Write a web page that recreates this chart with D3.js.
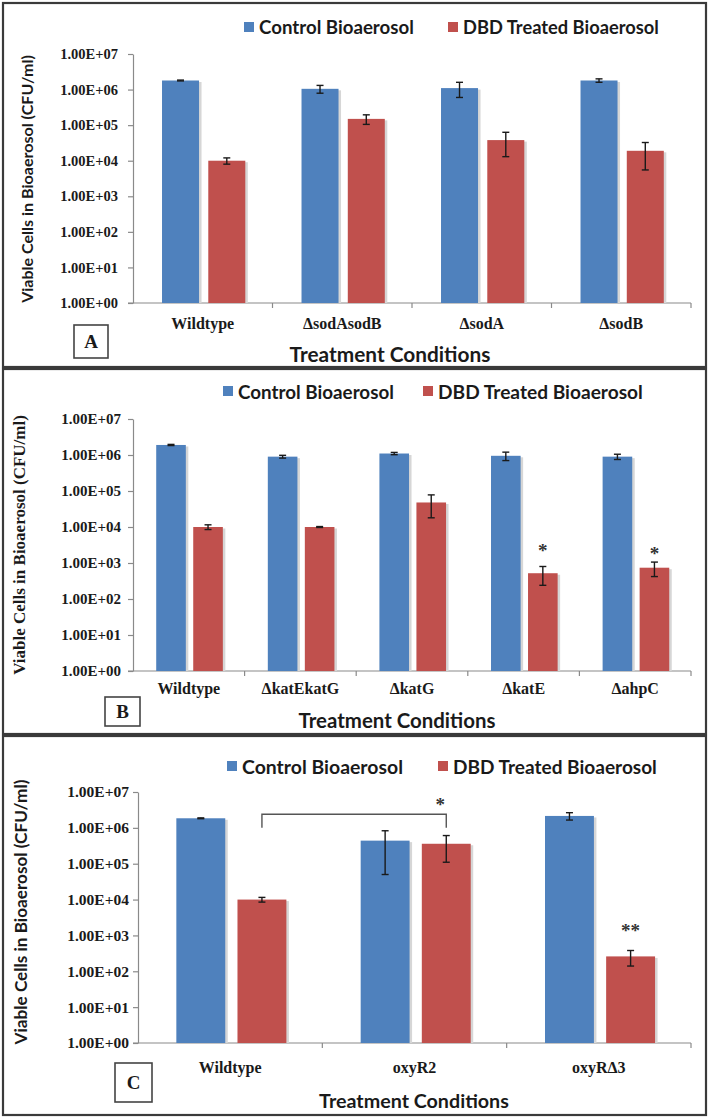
<!DOCTYPE html>
<html><head><meta charset="utf-8">
<script src="https://cdn.jsdelivr.net/npm/d3@7"></script>
<style>body{margin:0;background:#fff} svg{display:block}</style>
</head><body>
<svg id="chart" width="710" height="1118"></svg>
<script>
// ---------- DATA ----------
const seriesNames = ["Control Bioaerosol", "DBD Treated Bioaerosol"];
const seriesColors = ["#4F81BD", "#C0504D"];
const yTickValues = [1, 10, 100, 1e3, 1e4, 1e5, 1e6, 1e7];
const yTickLabels = ["1.00E+00","1.00E+01","1.00E+02","1.00E+03","1.00E+04","1.00E+05","1.00E+06","1.00E+07"];
const xAxisTitle = "Treatment Conditions";
const yAxisTitle = "Viable Cells in Bioaerosol (CFU/ml)";

// Panel A
const categoriesA = ["Wildtype", "ΔsodAsodB", "ΔsodA", "ΔsodB"];
const controlA    = [1.8e6, 1.05e6, 1.1e6, 1.8e6];
const controlErrA = [0.05e6, 0.26e6, 0.5e6, 0.2e6];
const treatedA    = [1.0e4, 1.5e5, 3.8e4, 1.9e4];
const treatedErrA = [0.2e4, 0.45e5, 2.5e4, 1.35e4];

// Panel B
const categoriesB = ["Wildtype", "ΔkatEkatG", "ΔkatG", "ΔkatE", "ΔahpC"];
const controlB    = [1.9e6, 0.9e6, 1.1e6, 0.95e6, 0.9e6];
const controlErrB = [0.07e6, 0.08e6, 0.08e6, 0.25e6, 0.15e6];
const treatedB    = [1.0e4, 1.0e4, 4.8e4, 5.2e2, 7.4e2];
const treatedErrB = [0.15e4, 0.03e4, 3.0e4, 2.8e2, 3.2e2];
const starsB      = [{category: "ΔkatE", level: 2.6e3, text: "*"}, {category: "ΔahpC", level: 2.2e3, text: "*"}];

// Panel C
const categoriesC = ["Wildtype", "oxyR2", "oxyRΔ3"];
const controlC    = [1.85e6, 4.4e5, 2.15e6];
const controlErrC = [0.05e6, 3.9e5, 0.5e6];
const treatedC    = [1.0e4, 3.6e5, 2.6e2];
const treatedErrC = [0.15e4, 2.5e5, 1.2e2];
const starsC      = [{category: "oxyRΔ3", level: 1.6e3, text: "**"}];
const bracketC    = {from: "Wildtype", to: "oxyR2", level: 2.4e6, foot: 1.0e6, starLevel: 5.2e6, text: "*"};

// ---------- DRAWING ----------
const SERIF = "'Liberation Serif','Times New Roman',serif";
const SANS = "Lato,'Open Sans','Liberation Sans',sans-serif";
const svg = d3.select("#chart");
svg.append("rect").attr("width", 710).attr("height", 1118).attr("fill", "#fff");

function fitText(sel, w) {
  const fs = parseFloat(sel.attr("font-size"));
  const L = sel.node().getComputedTextLength();
  if (L > 0) sel.attr("font-size", fs * w / L);
}

function drawPanel(p) {
  const g = svg.append("g");
  g.append("rect").attr("x", p.box[0]).attr("y", p.box[1])
    .attr("width", p.box[2] - p.box[0]).attr("height", p.box[3] - p.box[1])
    .attr("fill", "none").attr("stroke", "#3a3a3a").attr("stroke-width", 2.2);

  const x = d3.scaleBand().domain(p.categories).range([p.plot.x0, p.plot.x1]);
  const bw = x.bandwidth();
  const inner = d3.scaleBand().domain([0, 1]).range([0.208 * bw, 0.805 * bw]).paddingInner(0.2);
  const y = d3.scaleLog().domain([1, 1e7]).range([p.plot.y1, p.plot.y0]);

  // y axis
  const ay = g.append("g").attr("transform", `translate(${p.plot.x0},0)`)
    .call(d3.axisLeft(y).tickValues(yTickValues).tickFormat((d, i) => yTickLabels[i])
      .tickSize(5).tickSizeOuter(0).tickPadding(p.tickPad));
  ay.select(".domain").attr("stroke", "#8a8a8a").attr("stroke-width", 1.2);
  ay.selectAll(".tick line").attr("stroke", "#8a8a8a").attr("stroke-width", 1.2);
  ay.selectAll(".tick text").attr("font-family", SERIF).attr("font-weight", "bold")
    .attr("font-size", p.tickFont).attr("fill", "#1a1a1a");

  // x axis line and boundary ticks
  const y0 = y(1);
  g.append("line").attr("x1", p.plot.x0 - 5).attr("x2", p.plot.x1).attr("y1", y0).attr("y2", y0)
    .attr("stroke", "#8a8a8a").attr("stroke-width", 1.2);
  const bounds = p.categories.map(c => x(c)).concat([p.plot.x1]).slice(1);
  g.selectAll(".xt").data(bounds).enter().append("line")
    .attr("x1", d => d).attr("x2", d => d).attr("y1", y0).attr("y2", y0 + 5)
    .attr("stroke", "#8a8a8a").attr("stroke-width", 1.2);

  // bars
  const series = [
    {vals: p.control, errs: p.controlErr},
    {vals: p.treated, errs: p.treatedErr}
  ];
  series.forEach((s, si) => {
    const data = p.categories.map((c, i) => ({c, v: s.vals[i], e: s.errs[i]}));
    const bx = d => x(d.c) + inner(si);
    g.selectAll(".sh" + si).data(data).enter().append("rect")
      .attr("x", d => bx(d) + 2.5).attr("y", d => y(d.v) + 1.5)
      .attr("width", inner.bandwidth()).attr("height", d => y0 - y(d.v) - 1.5)
      .attr("fill", "#d6d6d6");
    g.selectAll(".b" + si).data(data).enter().append("rect")
      .attr("x", d => bx(d)).attr("y", d => y(d.v))
      .attr("width", inner.bandwidth()).attr("height", d => y0 - y(d.v))
      .attr("fill", seriesColors[si]);
    // error bars
    const eg = g.selectAll(".e" + si).data(data).enter().append("g")
      .attr("stroke", "#1a1a1a").attr("stroke-width", 1.4);
    const cx = d => bx(d) + inner.bandwidth() / 2;
    eg.append("line").attr("x1", cx).attr("x2", cx)
      .attr("y1", d => y(d.v + d.e)).attr("y2", d => y(Math.max(d.v - d.e, 1)));
    eg.append("line").attr("x1", d => cx(d) - 3.5).attr("x2", d => cx(d) + 3.5)
      .attr("y1", d => y(d.v + d.e)).attr("y2", d => y(d.v + d.e));
    eg.append("line").attr("x1", d => cx(d) - 3.5).attr("x2", d => cx(d) + 3.5)
      .attr("y1", d => y(Math.max(d.v - d.e, 1))).attr("y2", d => y(Math.max(d.v - d.e, 1)));
  });

  // category labels
  g.selectAll(".cl").data(p.categories).enter().append("text")
    .attr("x", d => x(d) + bw / 2).attr("y", p.catY)
    .attr("text-anchor", "middle").attr("dominant-baseline", "central")
    .attr("font-family", SERIF).attr("font-weight", "bold").attr("font-size", 16)
    .attr("fill", "#1a1a1a").text(d => d);

  // legend
  p.legend.items.forEach((it, i) => {
    g.append("rect").attr("x", it.tx - 15).attr("y", p.legend.y - 5)
      .attr("width", 10).attr("height", 10).attr("fill", seriesColors[i]);
    const t = g.append("text").attr("x", it.tx).attr("y", p.legend.y)
      .attr("dominant-baseline", "central").attr("font-family", SANS).attr("font-weight", "bold")
      .attr("font-size", 17).attr("fill", "#1a1a1a").text(seriesNames[i]);
    fitText(t, it.w);
  });

  // x title
  const xt = g.append("text").attr("x", p.xTitle.cx).attr("y", p.xTitle.y)
    .attr("text-anchor", "middle").attr("dominant-baseline", "central")
    .attr("font-family", SANS).attr("font-weight", "bold").attr("font-size", 17)
    .attr("fill", "#1a1a1a").text(xAxisTitle);
  fitText(xt, p.xTitle.w);

  // y title
  const yt = g.append("text")
    .attr("transform", `translate(${p.yTitle.x},${p.yTitle.cy}) rotate(-90)`)
    .attr("text-anchor", "middle").attr("dominant-baseline", "central")
    .attr("font-family", p.yTitle.font).attr("font-weight", "bold").attr("font-size", 16)
    .attr("fill", "#1a1a1a").text(yAxisTitle);
  fitText(yt, p.yTitle.len);

  // panel label box
  g.append("rect").attr("x", p.label.x).attr("y", p.label.y).attr("width", p.label.w).attr("height", p.label.h)
    .attr("fill", "#fff").attr("stroke", "#444").attr("stroke-width", 1.6);
  g.append("text").attr("x", p.label.x + p.label.w / 2).attr("y", p.label.y + p.label.h / 2)
    .attr("text-anchor", "middle").attr("dominant-baseline", "central")
    .attr("font-family", SERIF).attr("font-weight", "bold").attr("font-size", 19)
    .attr("fill", "#1a1a1a").text(p.label.text);

  // stars
  const starFs = 19;
  (p.stars || []).forEach(s => {
    g.append("text").attr("x", x(s.category) + inner(1) + inner.bandwidth() / 2)
      .attr("y", y(s.level) + 0.48 * starFs).attr("text-anchor", "middle")
      .attr("font-family", SERIF).attr("font-weight", "bold").attr("font-size", starFs)
      .attr("fill", "#333").text(s.text);
  });
  if (p.bracket) {
    const b = p.bracket;
    const xa = x(b.from) + inner(1) + inner.bandwidth() / 2;
    const xb = x(b.to) + inner(1) + inner.bandwidth() / 2;
    g.append("path")
      .attr("d", `M${xa},${y(b.foot)}V${y(b.level)}H${xb}V${y(b.foot)}`)
      .attr("fill", "none").attr("stroke", "#555").attr("stroke-width", 1.4);
    g.append("text").attr("x", xb - 6).attr("y", y(b.starLevel) + 0.48 * starFs)
      .attr("text-anchor", "middle").attr("font-family", SERIF).attr("font-weight", "bold")
      .attr("font-size", starFs).attr("fill", "#333").text(b.text);
  }
}

drawPanel({
  box: [3, 3, 706, 367],
  categories: categoriesA, control: controlA, controlErr: controlErrA, treated: treatedA, treatedErr: treatedErrA,
  plot: {x0: 133, x1: 691, y0: 54, y1: 303}, tickPad: 10, tickFont: 14.5,
  legend: {y: 27, items: [{tx: 259, w: 155}, {tx: 463, w: 196}]},
  catY: 323, xTitle: {cx: 390, y: 353, w: 201},
  label: {x: 74, y: 325, w: 34, h: 33, text: "A"},
  yTitle: {x: 26, cy: 179, len: 248, font: SANS}
});
drawPanel({
  box: [3, 369, 706, 734],
  categories: categoriesB, control: controlB, controlErr: controlErrB, treated: treatedB, treatedErr: treatedErrB,
  stars: starsB,
  plot: {x0: 133, x1: 691, y0: 419, y1: 671}, tickPad: 7, tickFont: 15,
  legend: {y: 391, items: [{tx: 238, w: 156}, {tx: 438, w: 205}]},
  catY: 688, xTitle: {cx: 397, y: 720, w: 197},
  label: {x: 105, y: 697, w: 35, h: 29, text: "B"},
  yTitle: {x: 19, cy: 545, len: 260, font: SERIF}
});
drawPanel({
  box: [3, 736, 706, 1115],
  categories: categoriesC, control: controlC, controlErr: controlErrC, treated: treatedC, treatedErr: treatedErrC,
  stars: starsC, bracket: bracketC,
  plot: {x0: 138, x1: 691, y0: 792, y1: 1043}, tickPad: 4, tickFont: 15.5,
  legend: {y: 766, items: [{tx: 242, w: 161}, {tx: 453, w: 204}]},
  catY: 1067, xTitle: {cx: 414, y: 1100, w: 190},
  label: {x: 115, y: 1063, w: 37, h: 39, text: "C"},
  yTitle: {x: 20, cy: 912, len: 265, font: SANS}
});
</script>
</body></html>
